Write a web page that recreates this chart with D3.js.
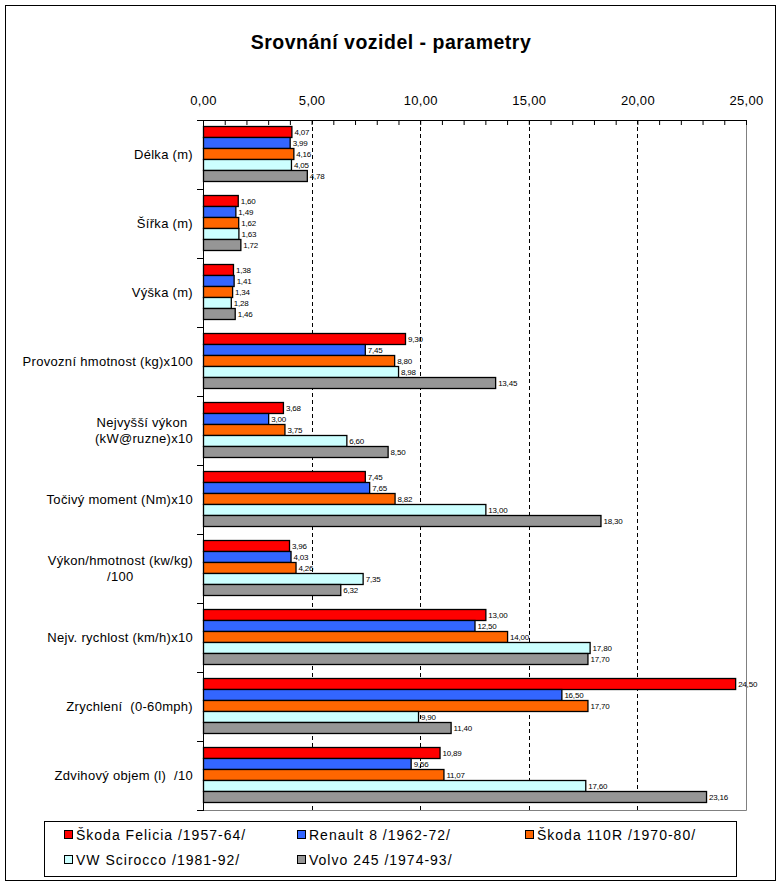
<!DOCTYPE html>
<html>
<head>
    <meta charset="utf-8">
    <script src="https://d3js.org/d3.v7.min.js"></script>
    <style>
        body { margin: 0; background: #fff; }
        text { font-family: "Liberation Sans", Arial, sans-serif; white-space: pre; }
    </style>
</head>
<body>
<div id="graf"></div>

<script>
    // kategorie (osa Y), dvouřádkové popisky odděleny \n
    var categories = [
        "Délka (m)",
        "Šířka (m)",
        "Výška (m)",
        "Provozní hmotnost (kg)x100",
        "Nejvyšší výkon \n(kW@ruzne)x10",
        "Točivý moment (Nm)x10",
        "Výkon/hmotnost (kw/kg)\n/100",
        "Nejv. rychlost (km/h)x10",
        "Zrychlení  (0-60mph)",
        "Zdvihový objem (l)  /10"
    ];

    var series = [
        "Škoda Felicia /1957-64/",
        "Renault 8 /1962-72/",
        "Škoda 110R /1970-80/",
        "VW Scirocco /1981-92/",
        "Volvo 245 /1974-93/"
    ];
    var colors = ["#ff0000", "#3366ff", "#ff6600", "#ccffff", "#969696"];

    // hodnoty po vozech, ve stejném pořadí jako categories
    var felicia  = [4.07, 1.60, 1.38, 9.30, 3.68, 7.45, 3.96, 13.00, 24.50, 10.89];
    var renault  = [3.99, 1.49, 1.41, 7.45, 3.00, 7.65, 4.03, 12.50, 16.50, 9.56];
    var skoda110 = [4.16, 1.62, 1.34, 8.80, 3.75, 8.82, 4.26, 14.00, 17.70, 11.07];
    var scirocco = [4.05, 1.63, 1.28, 8.98, 6.60, 13.00, 7.35, 17.80, 9.90, 17.60];
    var volvo    = [4.78, 1.72, 1.46, 13.45, 8.50, 18.30, 6.32, 17.70, 11.40, 23.16];
    var values = [felicia, renault, skoda110, scirocco, volvo];

    var xTicks = [0, 5, 10, 15, 20, 25];

    var W = 781, H = 886;
    var plot = { left: 203, right: 746, top: 120, bottom: 810 };

    var svg = d3.select("#graf")
        .append("svg")
        .attr("width", W)
        .attr("height", H);

    // rámeček grafu
    svg.append("rect")
        .attr("x", 5.5).attr("y", 5.5)
        .attr("width", 770).attr("height", 875)
        .attr("fill", "#fff").attr("stroke", "#000");

    svg.append("text")
        .attr("x", 391).attr("y", 49)
        .attr("text-anchor", "middle")
        .attr("font-size", "19.5px")
        .attr("letter-spacing", "0.5px")
        .attr("font-weight", "bold")
        .text("Srovnání vozidel - parametry");

    var xScale = d3.scaleLinear()
        .domain([0, 25])
        .range([plot.left, plot.right]);

    var y0 = d3.scaleBand()
        .domain(d3.range(categories.length))
        .range([plot.top, plot.bottom]);

    var y1 = d3.scaleBand()
        .domain(d3.range(series.length))
        .range([6, y0.bandwidth() - 8]);

    // okraj plochy grafu (šedý vpravo a dole)
    svg.append("path")
        .attr("d", "M" + (plot.right + 0.5) + "," + plot.top + "V" + (plot.bottom + 0.5) + "H" + plot.left)
        .attr("fill", "none")
        .attr("stroke", "#808080");

    // čárkovaná mřížka
    svg.append("g")
        .selectAll("line")
        .data(xTicks.filter(function(d) { return d > 0 && d < 25; }))
        .enter()
        .append("line")
        .attr("x1", function(d) { return Math.round(xScale(d)) + 0.5; })
        .attr("x2", function(d) { return Math.round(xScale(d)) + 0.5; })
        .attr("y1", plot.top)
        .attr("y2", plot.bottom)
        .attr("stroke", "#000")
        .attr("stroke-dasharray", "4,3");

    // sloupce
    var groups = svg.append("g")
        .selectAll("g")
        .data(categories)
        .enter()
        .append("g")
        .attr("transform", function(d, i) { return "translate(0," + y0(i) + ")"; });

    groups.selectAll("rect")
        .data(function(d, i) { return values.map(function(v, s) { return { s: s, v: v[i] }; }); })
        .enter()
        .append("rect")
        .attr("x", xScale(0) + 0.5)
        .attr("y", function(d) { return Math.round(y1(d.s)) + 0.5; })
        .attr("width", function(d) { return xScale(d.v) - xScale(0); })
        .attr("height", function(d) { return Math.round(y1.bandwidth()); })
        .attr("fill", function(d) { return colors[d.s]; })
        .attr("stroke", "#000")
        .attr("stroke-width", 1.3);

    var fmt = function(d) { return d3.format(".2f")(d).replace(".", ","); };

    groups.selectAll("text.val")
        .data(function(d, i) { return values.map(function(v, s) { return { s: s, v: v[i] }; }); })
        .enter()
        .append("text")
        .attr("class", "val")
        .attr("x", function(d) { return xScale(d.v) + 3; })
        .attr("y", function(d) { return y1(d.s) + y1.bandwidth() / 2 + 3; })
        .attr("font-size", "8px")
        .attr("letter-spacing", "-0.2px")
        .text(function(d) { return fmt(d.v); });

    // osa X nahoře
    var xAxis = d3.axisTop(xScale)
        .tickValues(d3.range(0, 26))
        .tickSize(-5)
        .tickPadding(15)
        .tickFormat(function(d) { return d % 5 === 0 ? fmt(d) : ""; });

    var gx = svg.append("g")
        .attr("transform", "translate(0," + plot.top + ")")
        .call(xAxis);
    gx.select(".domain").attr("stroke", "#000");
    gx.selectAll("text")
        .attr("font-size", "13px")
        .attr("letter-spacing", "0.3px")
        .attr("font-family", "Liberation Sans, Arial, sans-serif")
        .attr("fill", "#000");

    // osa Y vlevo
    svg.append("line")
        .attr("x1", plot.left + 0.5).attr("x2", plot.left + 0.5)
        .attr("y1", plot.top).attr("y2", plot.bottom + 1)
        .attr("stroke", "#000");

    svg.append("g")
        .selectAll("line")
        .data(d3.range(categories.length + 1))
        .enter()
        .append("line")
        .attr("x1", plot.left - 6)
        .attr("x2", plot.left)
        .attr("y1", function(i) { return Math.round(plot.top + i * y0.step()) + 0.5; })
        .attr("y2", function(i) { return Math.round(plot.top + i * y0.step()) + 0.5; })
        .attr("stroke", "#000");

    // popisky kategorií – blok zarovnaný vpravo, řádky centrované
    categories.forEach(function(c, i) {
        var lines = c.split("\n");
        var yc = y0(i) + y0.bandwidth() / 2;
        var t = svg.append("text")
            .attr("font-size", "13px")
            .attr("letter-spacing", "0.3px")
            .attr("text-anchor", "middle");
        lines.forEach(function(l, k) {
            t.append("tspan")
                .attr("y", yc + 4.5 + (k - (lines.length - 1) / 2) * 16)
                .text(l);
        });
        var maxW = 0;
        t.selectAll("tspan").each(function() {
            maxW = Math.max(maxW, this.getComputedTextLength());
        });
        t.selectAll("tspan").attr("x", 193 - maxW / 2);
    });

    // legenda
    svg.append("rect")
        .attr("x", 44.5).attr("y", 821.5)
        .attr("width", 692).attr("height", 55)
        .attr("fill", "#fff").attr("stroke", "#000");

    var legX = [64, 297, 525];
    var legY = [834, 859];
    var leg = svg.append("g")
        .selectAll("g")
        .data(series)
        .enter()
        .append("g")
        .attr("transform", function(d, i) {
            return "translate(" + legX[i % 3] + "," + legY[Math.floor(i / 3)] + ")";
        });

    leg.append("rect")
        .attr("x", 0.5).attr("y", -3.5)
        .attr("width", 8).attr("height", 8)
        .attr("fill", function(d, i) { return colors[i]; })
        .attr("stroke", "#000");

    leg.append("text")
        .attr("x", 12)
        .attr("y", 5.5)
        .attr("font-size", "14px")
        .attr("letter-spacing", "1px")
        .text(function(d) { return d; });
</script>
</body>
</html>
